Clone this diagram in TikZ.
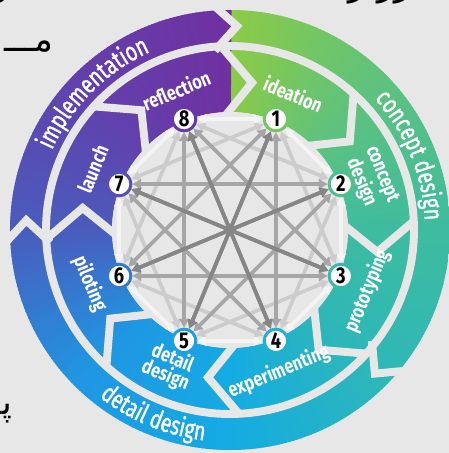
\documentclass[tikz,border=0pt]{standalone}
\usepackage{fontspec}
\setmainfont{Fira Sans}[FakeStretch=0.8]
\newfontfamily\phasefont{Fira Sans}[FakeStretch=0.74, FakeBold=1.2]
\newfontfamily\arabicfont[Script=Arabic]{DejaVu Sans}
\TeXXeTstate=1
\usetikzlibrary{arrows.meta,decorations.text}

\definecolor{bg}{HTML}{E7E7E7}
\definecolor{c0}{HTML}{8CCB46}
\definecolor{c1}{HTML}{5EC27E}
\definecolor{c2}{HTML}{3EBC9F}
\definecolor{c3}{HTML}{2DB7B9}
\definecolor{c4}{HTML}{14ABE3}
\definecolor{c5}{HTML}{1F97E2}
\definecolor{c6}{HTML}{4A5CBC}
\definecolor{c7}{HTML}{6240AD}
\definecolor{c8}{HTML}{7030A0}
\definecolor{web1}{HTML}{F4F4F4}
\definecolor{web2}{HTML}{CCCCCC}
\definecolor{web3}{HTML}{A6A6A6}
\definecolor{web4}{HTML}{868686}

\newcommand{\outerfont}{\phasefont\fontsize{15}{15}\selectfont}

\tikzset{
  gapline/.style={draw=bg, line width=4.5pt, line join=miter},
  num/.style={circle, draw=#1, fill=white, line width=1.7pt, minimum size=0.47cm,
    inner sep=0pt, font=\fontsize{13}{13}\selectfont\bfseries},
  lbl/.style={text=white, align=center, font=\fontsize{11.5}{10.5}\selectfont\bfseries},
  web/.style={draw=#1, line width=2.1pt, <->, >={Triangle[length=5pt,width=5.5pt]}},
  band/.style={decorate, decoration={text along path, text align=center,
    text color=white, text={|\outerfont|#1}}},
  frag/.style={font=\arabicfont\fontsize{20}{20}\selectfont},
}

\begin{document}
\begin{tikzpicture}[x=0.02cm, y=0.02cm]
\fill[bg] (-230,-223) rectangle (219,230);
\clip (-230,-223) rectangle (219,230);

% colour ring
\begin{scope}[even odd rule]
  \clip (0,0) circle (220) (0,0) circle (118);
  \foreach \t in {0,...,359} {
    \pgfmathtruncatemacro\seg{\t/45}
    \pgfmathtruncatemacro\nxt{\seg+1}
    \pgfmathtruncatemacro\pc{100-(\t-45*\seg)*100/45}
    \fill[c\seg!\pc!c\nxt] (0,0) -- (90-\t:230) arc (90-\t:88.6-\t:230) -- cycle;
  }
\end{scope}

% gaps between the arrows
\draw[gapline] (0,0) circle (184);
\foreach \b in {90.3,-42.5,179.5}
  \draw[gapline] (\b+4.5:228) -- (\b-2.25:204) -- (\b+4.5:180);
\foreach \b in {86.5,41.5,...,-228.5}
  \draw[gapline] (\b+6.3:184) -- (\b-5:149) -- (\b+6.9:112);

\fill[bg] (0,0) circle (118);

% phases
\path[band=implementation] (180:195) arc (180:90:195);
\path[band=concept design] (90:195) arc (90:-45:195);
\path[band=detail design] (-180:212) arc (-180:-45:212);

% steps
\foreach[count=\i] \a/\r/\t in {65/-22.5/ideation, 20/-67.5/{concept\\design},
    -24/67.5/prototyping, -71/22.5/experimenting, -114/-22.5/{detail\\design},
    -159/-67.5/piloting, 156/67.5/launch, 111/22.5/reflection}
  \node[lbl, rotate=\r] (l\i) at (\a:150) {\t};

\foreach \i in {1,...,8} {
  \pgfmathtruncatemacro\pv{\i-1}
  \node[num=c\pv!50!c\i] (n\i) at (112.5-45*\i:120) {\i};
}

\foreach \k/\w in {1/web1,2/web2,3/web3,4/web4}
  \foreach \i in {1,...,8} {
    \pgfmathtruncatemacro\jj{mod(\i+\k-1,8)+1}
    \draw[web=\w] (n\i) -- (n\jj);
  }

% cut text round the picture
\node[frag, anchor=base east] (f1) at (-170,178) {\beginR مـــ\endR};
\node[frag, anchor=base east] (f2) at (-212,-184) {\beginR پــ\endR};
\node[frag, anchor=base] (f3) at (150,234) {\beginR رر ر\endR};
\node[frag, anchor=base] (f4) at (-228,234) {\beginR و\endR};
\end{tikzpicture}
\end{document}
